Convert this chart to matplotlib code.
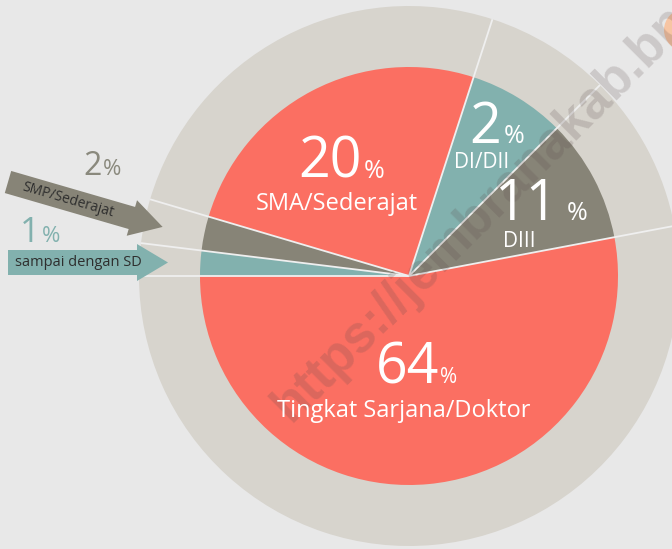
import matplotlib
import numpy as np

matplotlib.use("Agg")
import matplotlib.pyplot as plt  # noqa: E402
from matplotlib.patches import Circle, FancyArrow  # noqa: E402

# wedge order: counter-clockwise starting at 9 o'clock
labels = ["Tingkat Sarjana/Doktor", "DIII", "DI/DII", "SMA/Sederajat", "SMP/Sederajat", "sampai dengan SD"]
pct_text = ["64", "11", "2", "20", "2", "1"]
# angular size of each wedge as drawn in the source graphic (degrees)
spans_deg = [190.7, 34.3, 27.0, 91.5, 9.5, 7.0]

BG = "#e8e8e8"
RING = "#d7d4cd"
RED = "#fb6f62"
TEAL = "#82b1ae"
DARK = "#878477"
LINE = "#efefef"
wedge_colors = [RED, DARK, TEAL, RED, DARK, TEAL]

W, H = 672, 549
CX, CY = 409, H - 276
R_IN, R_OUT = 209, 270

plt.rcParams["font.family"] = ["Open Sans", "DejaVu Sans"]

fig = plt.figure(figsize=(W / 100, H / 100), dpi=100, facecolor=BG)
ax = fig.add_axes([0, 0, 1, 1])
ax.set_facecolor(BG)

# outer grey ring, then the real pie on top
ax.pie(spans_deg, radius=R_OUT, center=(CX, CY), startangle=180, counterclock=True,
       colors=[RING] * len(spans_deg), wedgeprops=dict(linewidth=0))
ax.pie(spans_deg, radius=R_IN, center=(CX, CY), startangle=180, counterclock=True,
       colors=wedge_colors, wedgeprops=dict(linewidth=0))

# light separators running through pie and ring
bounds = 180 + np.concatenate([[0], np.cumsum(spans_deg)[:-1]])
for a in np.deg2rad(bounds):
    ax.plot([CX, CX + R_OUT * np.cos(a)], [CY, CY + R_OUT * np.sin(a)],
            color=LINE, lw=1.3, solid_capstyle="butt", zorder=3)

ax.set_xlim(0, W)
ax.set_ylim(0, H)
ax.set_aspect("equal")
ax.axis("off")


def px(y):
    return H - y


def big_pct(num, x_right, base, x_pct, size=40, pct_size=18, color="white"):
    ax.text(x_right, px(base), num, ha="right", va="baseline", fontsize=size, color=color, zorder=5)
    ax.text(x_pct, px(base), "%", ha="left", va="baseline", fontsize=pct_size, color=color, zorder=5)


# labels inside the pie
big_pct(pct_text[3], 362, 178, 364)
ax.text(337, px(210), labels[3], ha="center", va="baseline", fontsize=17, color="white", zorder=5)

big_pct(pct_text[2], 501, 143, 504)
ax.text(482, px(168), labels[2], ha="center", va="baseline", fontsize=15, color="white", zorder=5)

big_pct(pct_text[1], 558, 220, 567)
ax.text(519, px(247), labels[1], ha="center", va="baseline", fontsize=15, color="white", zorder=5)

big_pct(pct_text[0], 439, 383, 440, pct_size=15)
ax.text(404, px(417), labels[0], ha="center", va="baseline", fontsize=17, color="white", zorder=5)

# callouts for the two thin wedges on the left
big_pct(pct_text[4], 102, 175, 103, size=23, pct_size=16, color="#8a897d")
big_pct(pct_text[5], 40, 242, 42, size=25, pct_size=16, color=TEAL)

ang = np.deg2rad(-16.2)
ax.add_patch(FancyArrow(8, px(182), 161 * np.cos(ang), 161 * np.sin(ang), width=23,
                        head_width=37, head_length=32, length_includes_head=True,
                        color=DARK, lw=0, zorder=4))
ax.text(68, px(200), labels[4], ha="center", va="center", rotation=-16.2,
        rotation_mode="anchor", fontsize=10, color="#2e2e2e", zorder=5)

ax.add_patch(FancyArrow(8, px(262.5), 160, 0, width=25, head_width=37, head_length=31,
                        length_includes_head=True, color=TEAL, lw=0, zorder=4))
ax.text(78, px(263), labels[5], ha="center", va="center", fontsize=10.5,
        color="#2e2e2e", zorder=5)

# bits of the source page: peach blob at the corner and the site watermark
ax.add_patch(Circle((685, px(30)), 21, color="#f7c5a3", lw=0, zorder=2))
ax.text(291, px(423), "https://jembranakab.bps.go.id", rotation=45, rotation_mode="anchor",
        ha="left", va="baseline", fontsize=37, fontweight="bold", color="#5a4a4a",
        alpha=0.2, zorder=4.5, family="Liberation Sans")

fig.savefig("out.png", dpi=100, facecolor=BG)
